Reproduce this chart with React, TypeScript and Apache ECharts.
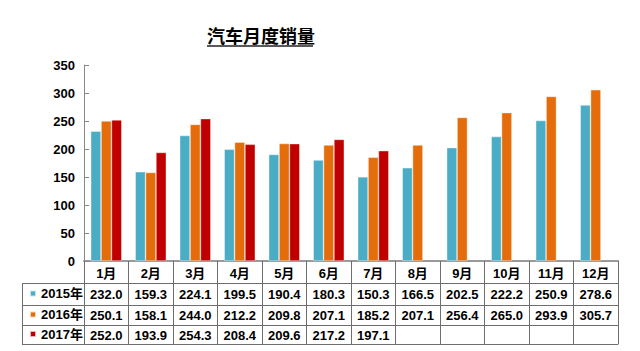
import React, { useEffect, useRef } from "react";
import * as echarts from "echarts";

const months = ["1月", "2月", "3月", "4月", "5月", "6月", "7月", "8月", "9月", "10月", "11月", "12月"];
const seriesNames = ["2015年", "2016年", "2017年"];
const sales2015 = [232.0, 159.3, 224.1, 199.5, 190.4, 180.3, 150.3, 166.5, 202.5, 222.2, 250.9, 278.6];
const sales2016 = [250.1, 158.1, 244.0, 212.2, 209.8, 207.1, 185.2, 207.1, 256.4, 265.0, 293.9, 305.7];
const sales2017 = [252.0, 193.9, 254.3, 208.4, 209.6, 217.2, 197.1];
const colors = ["#4bacc6", "#e46c0a", "#c00000"];

const FONT = "Arial, 'Liberation Sans', 'Noto Sans CJK SC', sans-serif";

export default function App() {
  const ref = useRef<HTMLDivElement>(null);
  useEffect(() => {
    if (!ref.current) return;
    const chart = echarts.init(ref.current, undefined, { renderer: "svg" });
    const allData = [sales2015, sales2016, sales2017];
    const rowLabels = allData.map((arr) => months.map((_, i) => (arr[i] != null ? arr[i].toFixed(1) : "")));
    const rowOffsets = [22, 44, 64];
    const rowMargins = [5, 4, 4];
    const rowCenters = [294, 315, 334.5];
    const tableLine = "#6e6e6e";

    const extraAxes: any[] = rowLabels.map((labels, k) => ({
      type: "category",
      gridIndex: 0,
      position: "bottom",
      offset: rowOffsets[k],
      data: labels,
      axisLine: { show: true, lineStyle: { color: tableLine, width: 1 } },
      axisTick: { show: false },
      splitLine: { show: false },
      axisLabel: {
        interval: 0,
        margin: rowMargins[k],
        fontFamily: FONT,
        fontWeight: "bold",
        fontSize: 13,
        color: "#000",
      },
    }));
    extraAxes.push({
      type: "category",
      gridIndex: 0,
      position: "bottom",
      offset: 83,
      data: months,
      axisLine: { show: true, lineStyle: { color: tableLine, width: 1 } },
      axisTick: { show: false },
      axisLabel: { show: false },
      splitLine: { show: false },
    });

    const leftX = 22;
    const gridLeft = 84;
    const hLines = [283, 305, 325, 344];

    chart.setOption({
      animation: false,
      backgroundColor: "#fff",
      title: {
        text: "汽车月度销量",
        left: 207,
        top: 26,
        padding: 0,
        textStyle: {
          fontFamily: "'Noto Sans CJK SC', sans-serif",
          fontWeight: "bold",
          fontSize: 18,
          color: "#000",
        },
      },
      legend: seriesNames.map((name, k) => ({
        orient: "vertical",
        left: 29,
        top: rowCenters[k] - 7,
        padding: 0,
        itemWidth: 6,
        itemHeight: 6,
        icon: "rect",
        data: [name],
        selectedMode: false,
        textStyle: {
          fontFamily: FONT,
          fontWeight: "bold",
          fontSize: 13,
          color: "#000",
        },
      })),
      grid: { left: gridLeft, right: 22, top: 65, bottom: 90 },
      yAxis: {
        type: "value",
        min: 0,
        max: 350,
        interval: 50,
        axisLine: { show: true, lineStyle: { color: "#888", width: 1 } },
        axisTick: { show: true, inside: true, length: 5, lineStyle: { color: "#888" } },
        splitLine: { show: false },
        axisLabel: {
          margin: 9,
          fontFamily: FONT,
          fontWeight: "bold",
          fontSize: 13,
          color: "#000",
        },
      },
      xAxis: [
        {
          type: "category",
          data: months,
          position: "bottom",
          axisLine: { show: true, lineStyle: { color: "#999", width: 2 } },
          axisTick: { show: true, interval: 0, length: 83, lineStyle: { color: tableLine, width: 1 } },
          splitLine: { show: false },
          axisLabel: {
            interval: 0,
            margin: 6,
            fontFamily: FONT,
            fontWeight: "bold",
            fontSize: 13,
            color: "#000",
          },
        },
        ...extraAxes,
      ],
      series: allData.map((arr, k) => ({
        name: seriesNames[k],
        type: "bar",
        xAxisIndex: 0,
        data: arr,
        barGap: "0%",
        barCategoryGap: "30%",
        itemStyle: { color: colors[k], borderColor: "rgba(255,255,255,0.7)", borderWidth: 0.6 },
      })),
      graphic: [
        {
          type: "line",
          shape: { x1: 207, y1: 46, x2: 313, y2: 46 },
          style: { stroke: "#222", lineWidth: 1.5 },
        },
        {
          type: "line",
          shape: { x1: leftX + 0.5, y1: hLines[0], x2: leftX + 0.5, y2: hLines[3] },
          style: { stroke: tableLine, lineWidth: 1 },
        },
        ...hLines.map((y) => ({
          type: "line",
          shape: { x1: leftX, y1: y + 0.5, x2: gridLeft, y2: y + 0.5 },
          style: { stroke: tableLine, lineWidth: 1 },
        })),
      ],
    });
    return () => chart.dispose();
  }, []);
  return <div ref={ref} style={{ width: 640, height: 351, position: "absolute", left: 0, top: 0 }} />;
}
